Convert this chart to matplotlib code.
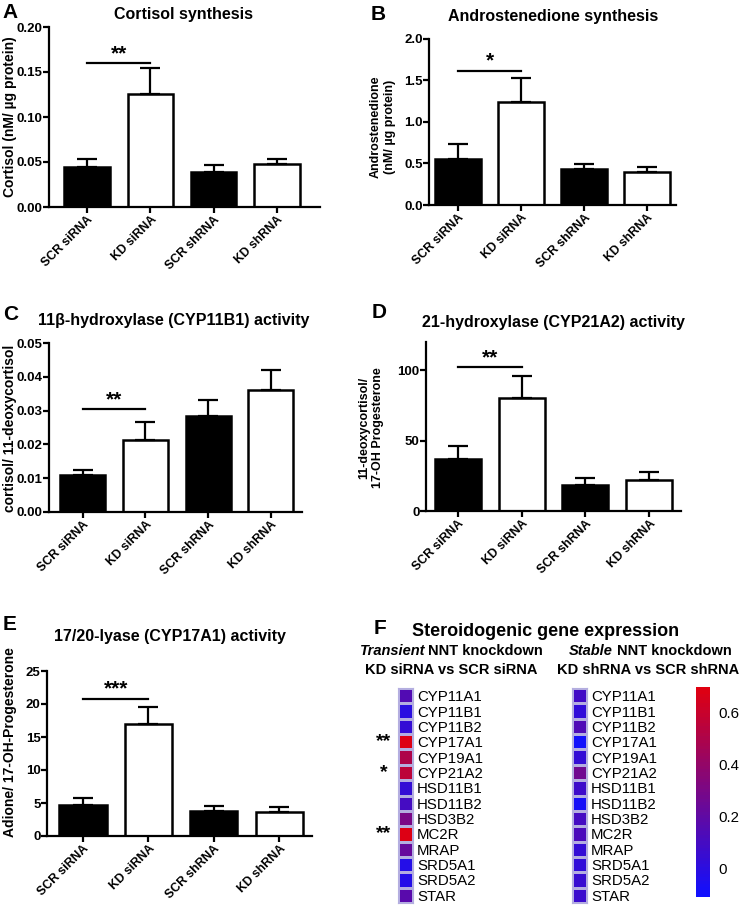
import numpy as np
import matplotlib
matplotlib.use("Agg")
import matplotlib.pyplot as plt
from matplotlib.colors import LinearSegmentedColormap
from matplotlib.ticker import FormatStrFormatter

W, H = 742, 907
plt.rcParams["font.family"] = ["Liberation Sans", "DejaVu Sans"]
plt.rcParams["font.weight"] = "bold"

groups = ["SCR siRNA", "KD siRNA", "SCR shRNA", "KD shRNA"]

cortisol = [0.045, 0.126, 0.039, 0.048]
cortisol_err = [0.008, 0.029, 0.008, 0.005]
adione = [0.56, 1.24, 0.43, 0.40]
adione_err = [0.18, 0.29, 0.06, 0.06]
cyp11b1 = [0.0108, 0.0213, 0.0283, 0.036]
cyp11b1_err = [0.0015, 0.0052, 0.0047, 0.006]
cyp21a2 = [37.0, 80.5, 18.5, 22.0]
cyp21a2_err = [9.5, 15.5, 5.0, 6.0]
cyp17a1 = [4.7, 17.0, 3.8, 3.7]
cyp17a1_err = [1.1, 2.6, 0.8, 0.7]

genes = ["CYP11A1", "CYP11B1", "CYP11B2", "CYP17A1", "CYP19A1", "CYP21A2",
         "HSD11B1", "HSD11B2", "HSD3B2", "MC2R", "MRAP", "SRD5A1", "SRD5A2", "STAR"]
transient = [0.15, 0.00, 0.03, 0.68, 0.50, 0.56, 0.03, 0.10, 0.30, 0.68,
             0.22, -0.03, -0.03, 0.17]
stable = [0.08, 0.02, 0.14, -0.09, 0.04, 0.26, 0.07, -0.08, 0.10, 0.13,
          0.03, 0.02, 0.05, 0.06]
transient_stars = {"CYP17A1": "**", "CYP21A2": "*", "MC2R": "**"}

fig = plt.figure(figsize=(W / 100, H / 100), dpi=100)


def px(l, t, r, b):
    return [l / W, 1 - b / H, (r - l) / W, (b - t) / H]


def ftext(x, y, s, **kw):
    return fig.text(x / W, 1 - y / H, s, **kw)


def bar_panel(box, xlim, means, errs, ylim, yticks, fmt, sig_y, stars):
    ax = fig.add_axes(px(*box))
    x = np.arange(len(groups))
    ax.bar(x, means, width=0.72, color=["black", "white", "black", "white"],
           edgecolor="black", linewidth=1.8, zorder=2)
    ax.errorbar(x, means, yerr=[np.zeros(len(errs)), errs], fmt="none",
                ecolor="black", elinewidth=1.6, capsize=7, capthick=1.6, zorder=3)
    ax.plot([0, 1], [sig_y, sig_y], color="black", lw=1.6)
    ax.text(0.5, sig_y, stars, ha="center", va="bottom", fontsize=15)
    ax.set_xlim(*xlim)
    ax.set_ylim(*ylim)
    ax.set_yticks(yticks)
    ax.yaxis.set_major_formatter(FormatStrFormatter(fmt))
    ax.set_xticks(x)
    ax.set_xticklabels(groups, rotation=45, ha="right", rotation_mode="anchor",
                       fontsize=8.8)
    for s in ["top", "right"]:
        ax.spines[s].set_visible(False)
    for s in ["left", "bottom"]:
        ax.spines[s].set_linewidth(1.6)
    ax.tick_params(direction="out", length=4, width=1.6, pad=1)
    ax.tick_params(axis="y", labelsize=9.5, pad=0.5)
    return ax


bar_panel((49, 27, 320, 207), (-0.6, 3.68), cortisol, cortisol_err, (0, 0.2),
          np.arange(0, 0.201, 0.05), "%.2f", 0.160, "**")
bar_panel((429, 39, 676, 205), (-0.46, 3.46), adione, adione_err, (0, 2.0),
          np.arange(0, 2.01, 0.5), "%.1f", 1.62, "*")
bar_panel((49, 343, 302, 512), (-0.54, 3.5), cyp11b1, cyp11b1_err, (0, 0.05),
          np.arange(0, 0.0501, 0.01), "%.2f", 0.0305, "**")
bar_panel((426, 342, 681, 511), (-0.5, 3.5), cyp21a2, cyp21a2_err, (0, 120),
          [0, 50, 100], "%d", 102, "**")
bar_panel((47, 671, 312, 836), (-0.55, 3.5), cyp17a1, cyp17a1_err, (0, 25),
          np.arange(0, 26, 5), "%d", 20.8, "***")

# titles, panel letters, y labels
ftext(183, 14, "Cortisol synthesis", ha="center", va="center", fontsize=11.5)
ftext(553, 16, "Androstenedione synthesis", ha="center", va="center", fontsize=11.5)
ftext(174, 320, "11\u03b2-hydroxylase (CYP11B1) activity", ha="center", va="center", fontsize=11.5)
ftext(553, 322, "21-hydroxylase (CYP21A2) activity", ha="center", va="center", fontsize=11.5)
ftext(170, 636, "17/20-lyase (CYP17A1) activity", ha="center", va="center", fontsize=11.5)

for letter, (lx, ly) in zip("ABCDEF", [(2, 12), (371, 14), (3, 314), (372, 312),
                                       (3, 624), (374, 629)]):
    ftext(lx, ly, letter, ha="left", va="center", fontsize=15)

ylab = dict(rotation=90, ha="center", va="center", fontsize=9, multialignment="center")
narrow = dict(rotation=90, ha="center", va="center", fontsize=10,
              family=["Liberation Sans Narrow", "Liberation Sans", "DejaVu Sans"])
ftext(10, 117, "Cortisol (nM/ \u00b5g protein)", **narrow)
ftext(383, 127, "Androstenedione\n(nM/ \u00b5g protein)", **ylab)
ftext(10, 428, "cortisol/ 11-deoxycortisol", **narrow)
ftext(371, 428, "11-deoxycortisol/\n17-OH Progesterone", **ylab)
ftext(10, 742, "Adione/ 17-OH-Progesterone", **narrow)

# panel F: heatmaps
cmap = LinearSegmentedColormap.from_list("br", ["#1010ff", "#e00010"], N=64)
vmin, vmax = -0.11, 0.70


def heat(box, vals):
    ax = fig.add_axes(px(*box))
    im = ax.pcolormesh(np.array(vals)[:, None], cmap=cmap, vmin=vmin, vmax=vmax,
                       edgecolors="#b4aee0", linewidth=0.8)
    ax.set_ylim(len(vals), 0)
    ax.set_xticks([])
    ax.set_yticks(np.arange(len(genes)) + 0.5)
    ax.set_yticklabels(genes, fontweight="normal", fontsize=10.8)
    ax.yaxis.tick_right()
    ax.tick_params(axis="y", length=0, pad=3)
    for s in ax.spines.values():
        s.set_color("#b4aee0")
        s.set_linewidth(0.8)
    return ax, im


ax_t, im = heat((398, 688, 413, 903), transient)
heat((572, 688, 587, 903), stable)
for i, g in enumerate(genes):
    if g in transient_stars:
        ax_t.text(-0.95, i + 0.5, transient_stars[g], transform=ax_t.get_yaxis_transform(),
                  ha="center", va="center", fontsize=14)

cax = fig.add_axes(px(696, 687, 710, 897))
cb = fig.colorbar(im, cax=cax, ticks=[0, 0.2, 0.4, 0.6])
cb.ax.set_yticklabels(["0", "0.2", "0.4", "0.6"], fontweight="normal", fontsize=10.8)
cb.ax.tick_params(length=0, pad=6)
cb.outline.set_visible(False)

ftext(546, 632, "Steroidogenic gene expression", ha="center", va="center", fontsize=13)
ftext(425, 651, "Transient", ha="right", va="center", fontsize=10.5, style="italic")
ftext(428, 651, "NNT knockdown", ha="left", va="center", fontsize=10.5)
ftext(451, 670, "KD siRNA vs SCR siRNA", ha="center", va="center", fontsize=10.5)
ftext(613, 651, "Stable", ha="right", va="center", fontsize=10.5, style="italic")
ftext(617, 651, "NNT knockdown", ha="left", va="center", fontsize=10.5)
ftext(648, 670, "KD shRNA vs SCR shRNA", ha="center", va="center", fontsize=10.5)

fig.savefig("out.png", dpi=100)
